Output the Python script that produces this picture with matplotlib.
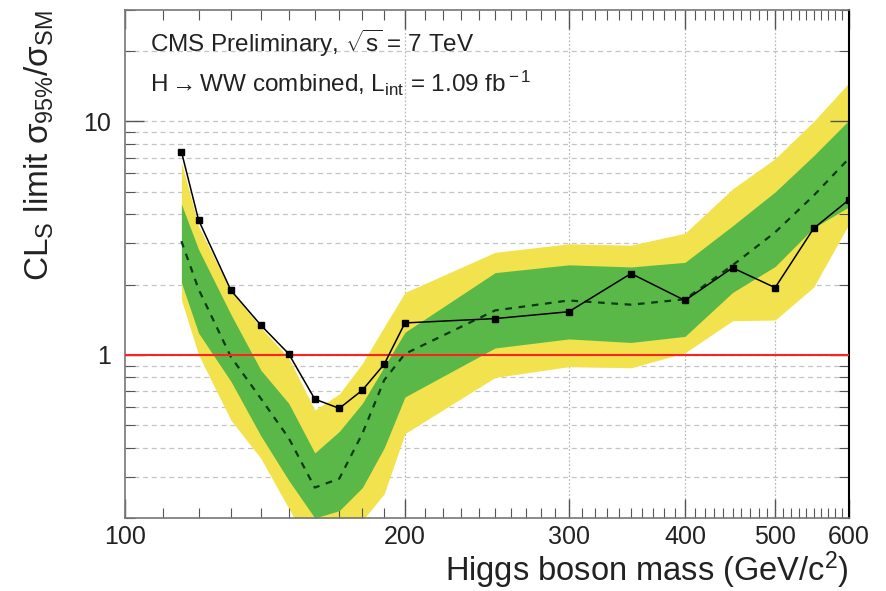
import matplotlib
matplotlib.use("Agg")
import matplotlib.pyplot as plt
from matplotlib.ticker import FixedLocator, NullFormatter, FixedFormatter

plt.rcParams['font.family'] = ['Liberation Sans', 'DejaVu Sans']
plt.rcParams['mathtext.fontset'] = 'custom'
plt.rcParams['mathtext.rm'] = 'Liberation Sans'
plt.rcParams['mathtext.it'] = 'Liberation Sans'
plt.rcParams['mathtext.bf'] = 'Liberation Sans:bold'

# Higgs mass points (GeV/c^2)
mass = [115, 120, 130, 140, 150, 160, 170, 180, 190, 200,
        250, 300, 350, 400, 450, 500, 550, 600]

# observed 95% CL limit / SM
observed = [7.43, 3.78, 1.89, 1.34, 1.01, 0.646, 0.59, 0.706, 0.912, 1.37,
            1.43, 1.53, 2.23, 1.71, 2.36, 1.94, 3.48, 4.61]

# expected limit (median) and the 1 and 2 sigma bands
expected = [3.07, 1.91, 0.98, 0.65, 0.44, 0.27, 0.295, 0.46, 0.78, 1.01,
            1.55, 1.71, 1.64, 1.73, 2.42, 3.35, 4.81, 6.93]
band1_hi = [4.43, 2.83, 1.49, 0.86, 0.62, 0.38, 0.47, 0.62, 0.89, 1.25,
            2.25, 2.43, 2.38, 2.49, 3.57, 4.99, 7.13, 10.1]
band1_lo = [2.04, 1.24, 0.77, 0.45, 0.29, 0.20, 0.215, 0.27, 0.40, 0.66,
            1.07, 1.17, 1.13, 1.20, 1.85, 2.39, 3.5, 4.3]
band2_hi = [6.7, 3.56, 1.87, 1.31, 0.97, 0.58, 0.68, 0.92, 1.32, 1.85,
            2.75, 2.99, 2.95, 3.32, 5.14, 6.93, 10.0, 14.6]
band2_lo = [1.72, 1.0, 0.525, 0.36, 0.22, 0.14, 0.155, 0.195, 0.254, 0.46,
            0.80, 0.89, 0.88, 1.02, 1.40, 1.41, 1.95, 3.62]

x_major = [100, 200, 300, 400, 500, 600]
x_labels = ['100', '200', '300', '400', '500', '600']

fig = plt.figure(figsize=(8.86, 5.91), dpi=100)
ax = fig.add_axes([0.141, 0.1235, 0.817, 0.8595])

ax.set_xscale('log')
ax.set_yscale('log')
ax.set_xlim(100, 600)
ax.set_ylim(0.2, 30)

# grid first, so the bands sit on top of it
y_grid = [0.2, 0.3, 0.4, 0.5, 0.6, 0.7, 0.8, 0.9, 1, 2, 3, 4, 5, 6, 7, 8, 9, 10, 20]
for yv in y_grid:
    ax.axhline(yv, color='#c4c4c4', lw=0.9, ls=(0, (4, 3)), zorder=0)
for xv in x_major[1:-1]:
    ax.axvline(xv, color='#bbbbbb', lw=0.9, ls=(0, (1.5, 1.5)), zorder=0)

ax.fill_between(mass, band2_lo, band2_hi, color='#f2e34e', lw=0, zorder=1)
ax.fill_between(mass, band1_lo, band1_hi, color='#5ab848', lw=0, zorder=2)
ax.plot(mass, expected, color='#0b3a12', lw=1.6, ls=(0, (3, 3)), zorder=3)
ax.axhline(1.0, color='#ff2020', lw=1.5, zorder=4)
ax.plot(mass, observed, color='black', lw=1.1, marker='s', ms=4.5, zorder=5)

# ticks
ax.xaxis.set_major_locator(FixedLocator(x_major))
ax.xaxis.set_major_formatter(FixedFormatter(x_labels))
ax.xaxis.set_minor_locator(FixedLocator([m for m in range(110, 600, 10) if m not in x_major]))
ax.xaxis.set_minor_formatter(NullFormatter())
ax.yaxis.set_major_locator(FixedLocator([1, 10]))
ax.yaxis.set_major_formatter(FixedFormatter(['1', '10']))
ax.yaxis.set_minor_locator(FixedLocator([0.2, 0.3, 0.4, 0.5, 0.6, 0.7, 0.8, 0.9,
                                         2, 3, 4, 5, 6, 7, 8, 9, 20, 30]))
ax.yaxis.set_minor_formatter(NullFormatter())

ax.tick_params(which='both', direction='in', top=True, right=True, colors='#555555',
               labelcolor='#222222', labelsize=18)
ax.tick_params(which='major', length=14, width=1.0)
ax.tick_params(axis='x', which='major', pad=5)
ax.tick_params(axis='y', which='major', pad=10)
ax.tick_params(which='minor', length=7, width=0.8)

for side in ['left', 'bottom', 'top']:
    ax.spines[side].set_color('#777777')
    ax.spines[side].set_linewidth(1.2)
ax.spines['right'].set_color('black')
ax.spines['right'].set_linewidth(1.5)

ax.set_xlabel(r'Higgs boson mass (GeV/c$^2$)', fontsize=23.5, color='#222222',
              ha='right', va='bottom')
ax.xaxis.set_label_coords(1.0, -0.143)
ax.set_ylabel(r'CL$_{\rm S}$ limit $\sigma_{95\%}/\sigma_{\rm SM}$', fontsize=24,
              color='#222222', ha='right', va='center')
ax.yaxis.set_label_coords(-0.118, 1.0)

ax.text(0.034, 0.965, r'CMS Preliminary, $\sqrt{s}$ = 7 TeV', transform=ax.transAxes,
        fontsize=17.5, color='#222222', va='top', ha='left')
ax.text(0.034, 0.885, r'H$\rightarrow$WW combined, L$_{\rm int}$ = 1.09 fb$^{\rm -1}$',
        transform=ax.transAxes, fontsize=17.5, color='#222222', va='top', ha='left')

fig.savefig('out.png', dpi=100)
